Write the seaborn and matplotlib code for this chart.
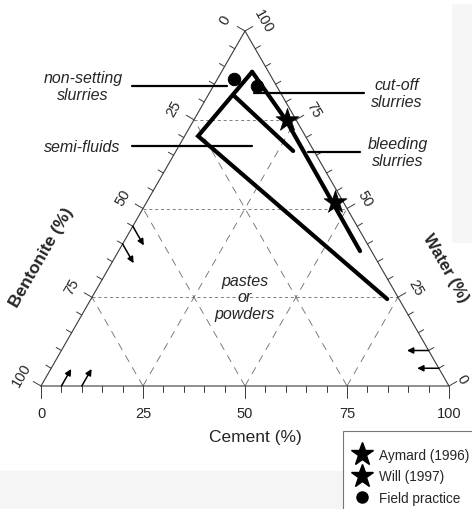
import numpy as np
import pandas as pd
import matplotlib
matplotlib.use("Agg")
import matplotlib.pyplot as plt
import seaborn as sns
from matplotlib.lines import Line2D
from matplotlib.patches import Rectangle

# ---------------- data (percent: cement, water; bentonite = 100 - cement - water) -------------
boundary_long_cement = [7.5, 3.3, 72.6]
boundary_long_water = [88.5, 70.4, 24.5]
boundary_inner_cement = [6.1, 28.7]
boundary_inner_water = [82.0, 66.2]
boundary_right_cement = [7.5, 22.5, 59.2]
boundary_right_water = [88.5, 75.0, 38.0]
aymard_cement = [22.8]
aymard_water = [74.9]
will_cement = [46.2]
will_water = [51.8]
field_cement = [4.1, 10.7]
field_water = [86.5, 84.5]
tick_values = [0, 25, 50, 75, 100]
tick_labels = ["0", "25", "50", "75", "100"]
grid_levels = [25, 50, 75]
legend_labels = ["Aymard (1996)", "Will (1997)", "Field practice"]
zone_labels = ["non-setting\nslurries", "cut-off\nslurries", "semi-fluids",
               "bleeding\nslurries", "pastes\nor\npowders"]
arrow_bentonite_left = [55, 60]
arrow_cement_bottom = [5, 10]
arrow_water_right = [10, 5]

# ---------------- geometry helpers ----------------
SQ = np.sqrt(3) / 2
KX = 4.08
KY = 355 / (100 * SQ)
X0, Y0 = 41, 387


def tern(c, w):
    c = np.asarray(c, float)
    w = np.asarray(w, float)
    return c + w / 2, w * SQ


def px(xp, yp):
    return (xp - X0) / KX, (Y0 - yp) / KY


def pvec(dxp, dyp):
    return dxp / KX, -dyp / KY


sns.set_theme(style="white")
FONT = ["Liberation Sans", "DejaVu Sans"]
plt.rcParams["font.family"] = FONT
plt.rcParams["lines.scale_dashes"] = False

fig = plt.figure(figsize=(4.72, 5.10), dpi=100)
fig.patch.set_facecolor("white")
fig.patches.append(Rectangle((452 / 472, 1 - 243 / 510), 20 / 472, 238 / 510,
                             transform=fig.transFigure, color="#f6f6f6", zorder=-5))
fig.patches.append(Rectangle((0, 0), 343 / 472, 38 / 510,
                             transform=fig.transFigure, color="#f5f5f5", zorder=-5))
ax = fig.add_axes([0, 0, 1, 1])
ax.set_facecolor("none")
ax.set_xlim(px(0, 0)[0], px(472, 0)[0])
ax.set_ylim(px(0, 510)[1], px(0, 0)[1])
ax.axis("off")

edge_col = "#3a3a3a"
grid_col = "#6a6a6a"

# triangle frame
tx, ty = tern([0, 100, 0, 0], [0, 0, 100, 0])
ax.plot(tx, ty, color=edge_col, lw=0.8, zorder=2)

# grid lines
for lv in grid_levels:
    gx, gy = tern([0, 100 - lv], [lv, lv])            # constant water
    ax.plot(gx, gy, color=grid_col, lw=0.6, dashes=(2.2, 2.0), zorder=1)
    gx, gy = tern([lv, lv], [0, 100 - lv])            # constant cement
    ax.plot(gx, gy, color=grid_col, lw=0.6, dashes=(5.5, 4.5), zorder=1)
    gx, gy = tern([100 - lv, 0], [0, 100 - lv])       # constant bentonite
    ax.plot(gx, gy, color=grid_col, lw=0.6, dashes=(5.5, 4.5), zorder=1)

# ticks
for v in range(0, 101, 5):
    major = v % 25 == 0
    L = 12 if major else 6
    bx, by = tern(v, 0)
    d = pvec(0, L)
    ax.plot([bx, bx + d[0]], [by, by + d[1]], color=edge_col, lw=0.7)
    L = 9 if major else 6
    lx, ly = tern(0, 100 - v)
    d = pvec(-0.866 * L, -0.5 * L)
    ax.plot([lx, lx + d[0]], [ly, ly + d[1]], color=edge_col, lw=0.7)
    rx, ry = tern(100 - v, v)
    d = pvec(0.866 * L, -0.5 * L)
    ax.plot([rx, rx + d[0]], [ry, ry + d[1]], color=edge_col, lw=0.7)

# tick labels
for v, lab in zip(tick_values, tick_labels):
    bx, by = tern(v, 0)
    ax.text(bx, by + pvec(0, 27)[1], lab, ha="center", va="center", fontsize=10.5)
    lx, ly = tern(0, 100 - v)
    d = pvec(-0.866 * 23, -0.5 * 23)
    ax.text(lx + d[0], ly + d[1], lab, ha="center", va="center", fontsize=10.5,
            rotation=60, rotation_mode="anchor")
    rx, ry = tern(100 - v, v)
    off = 21 if v > 0 else 15
    d = pvec(0.866 * off, -0.5 * off)
    ax.text(rx + d[0], ry + d[1], lab, ha="center", va="center", fontsize=10.5,
            rotation=-60, rotation_mode="anchor")

# axis titles
x, y = px(255, 438)
ax.text(x, y, "Cement (%)", ha="center", va="center", fontsize=12.5)
x, y = px(42, 258)
ax.text(x, y, "Bentonite (%)", ha="center", va="center", fontsize=12.5,
        fontweight="bold", rotation=60, rotation_mode="anchor")
x, y = px(446, 268)
ax.text(x, y, "Water (%)", ha="center", va="center", fontsize=12,
        fontweight="bold", rotation=-60, rotation_mode="anchor")

# reading-direction arrows
aprops = dict(arrowstyle="-|>", lw=1.1, color="black", mutation_scale=9,
              shrinkA=0, shrinkB=0)
for b in arrow_bentonite_left:
    s = tern(0, 100 - b)
    e = tern(5.4, 100 - b - 5.4)
    ax.annotate("", xy=e, xytext=s, arrowprops=aprops)
for c in arrow_cement_bottom:
    s = tern(c, 0)
    e = tern(c, 4.8)
    ax.annotate("", xy=e, xytext=s, arrowprops=aprops)
for w in arrow_water_right:
    s = tern(100 - w, w)
    e = tern(100 - w - 5.3, w)
    ax.annotate("", xy=e, xytext=s, arrowprops=aprops)

# boundary lines
for cc, ww in [(boundary_long_cement, boundary_long_water),
               (boundary_inner_cement, boundary_inner_water),
               (boundary_right_cement, boundary_right_water)]:
    x, y = tern(cc, ww)
    df = pd.DataFrame({"x": x, "y": y})
    sns.lineplot(data=df, x="x", y="y", sort=False, estimator=None, color="black",
                 lw=3.0, ax=ax, zorder=4, solid_joinstyle="miter")

# points
x, y = tern(aymard_cement, aymard_water)
sns.scatterplot(x=x, y=y, marker="*", s=300, color="black", edgecolor="black",
                linewidth=0.5, ax=ax, zorder=6)
x, y = tern(will_cement, will_water)
sns.scatterplot(x=x, y=y, marker="*", s=300, color="black", edgecolor="black",
                linewidth=0.5, ax=ax, zorder=6)
x, y = tern(field_cement, field_water)
sns.scatterplot(x=x, y=y, marker="o", s=80, color="black", edgecolor="black",
                ax=ax, zorder=6)

# zone labels and leader lines
label_pos = [(83, 87), (397, 94), (82, 147), (398, 153), (245, 298)]
for lab, (xp, yp) in zip(zone_labels, label_pos):
    x, y = px(xp, yp)
    ax.text(x, y, lab, ha="center", va="center", fontsize=11.5, style="italic",
            linespacing=1.15)
leaders = [((132, 87), (227, 87)), ((254, 94), (364, 94)),
           ((132, 147), (252, 147)), ((308, 153), (360, 153))]
for (x1, y1), (x2, y2) in leaders:
    a = px(x1, y1)
    b = px(x2, y2)
    ax.plot([a[0], b[0]], [a[1], b[1]], color="black", lw=1.6, zorder=3)

# legend
handles = [
    Line2D([], [], ls="none", marker="*", ms=17, color="black"),
    Line2D([], [], ls="none", marker="*", ms=17, color="black"),
    Line2D([], [], ls="none", marker="o", ms=8, color="black"),
]
leg = fig.legend(handles, legend_labels, loc="upper left",
                 bbox_to_anchor=(343 / 472, 1 - 432 / 510), fontsize=9.8,
                 frameon=True, fancybox=False, borderpad=1.25, labelspacing=0.55,
                 handlelength=0.25, handletextpad=1.15, borderaxespad=0)
leg.get_frame().set_edgecolor("#555555")
leg.get_frame().set_linewidth(0.8)

fig.savefig("out.png", dpi=100)
